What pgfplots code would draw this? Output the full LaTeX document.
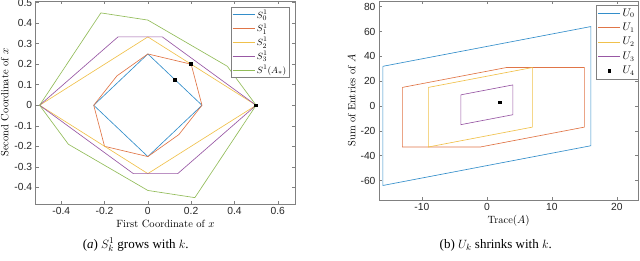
\documentclass[border=0pt]{standalone}
\usepackage{pgfplots}
\pgfplotsset{compat=1.18}
\usepackage{fontspec}
\setsansfont{Liberation Sans}
\newfontfamily\capfont{Liberation Serif}
\definecolor{mblue}{rgb}{0,0.447,0.741}
\definecolor{morange}{rgb}{0.85,0.325,0.098}
\definecolor{myellow}{rgb}{0.929,0.694,0.125}
\definecolor{mpurple}{rgb}{0.494,0.184,0.556}
\definecolor{mgreen}{rgb}{0.466,0.674,0.188}
\definecolor{axgray}{rgb}{0.5,0.5,0.5}
\begin{document}
\begin{tikzpicture}
\path[use as bounding box] (0pt,0pt) rectangle (640pt,260pt);
\pgfplotsset{
  myax/.style={
    scale only axis,
    anchor=south west,
    axis line style={axgray, line width=0.6pt},
    tick style={axgray, line width=0.5pt},
    tick align=inside,
    major tick length=3pt,
    ticklabel style={font=\sffamily\fontsize{10.3}{11}\selectfont, text=black!85},
    label style={font=\fontsize{10.5}{12}\selectfont},
    legend style={draw=axgray, line width=0.5pt, font=\fontsize{9.5}{10}\selectfont, inner sep=0.8pt, row sep=0pt, cells={anchor=west}},
    legend cell align=left,
    legend image code/.code={\draw[mark repeat=2,mark phase=2,#1] plot coordinates {(0pt,0pt) (11pt,0pt) (22pt,0pt)};},
    every axis plot/.append style={line width=0.65pt},
    clip=false,
  }
}
\begin{axis}[myax,
  at={(35.7pt,56pt)}, width=259.6pt, height=203pt,
  xmin=-0.518, xmax=0.681, ymin=-0.481, ymax=0.508,
  xtick={-0.4,-0.2,0,0.2,0.4,0.6}, xticklabels={-0.4,-0.2,0,0.2,0.4,0.6},
  ytick={-0.4,-0.3,-0.2,-0.1,0,0.1,0.2,0.3,0.4,0.5},
  yticklabels={-0.4,-0.3,-0.2,-0.1,0,0.1,0.2,0.3,0.4,0.5},
  xlabel={First Coordinate of $x$}, ylabel={Second Coordinate of $x$},
  xlabel style={yshift=2pt}, ylabel style={yshift=-1pt},
  legend style={at={(0.977,0.972)}, anchor=north east},
]
\addplot[mblue!80!white] coordinates {(0.25,0) (0,0.25) (-0.25,0) (0,-0.25) (0.25,0)};
\addlegendentry{$S_0^1$}
\addplot[morange!80!white] coordinates {(0.25,0) (0.2,0.2) (0,0.25) (-0.143,0.143) (-0.25,0) (-0.2,-0.2) (0,-0.25) (0.143,-0.143) (0.25,0)};
\addlegendentry{$S_1^1$}
\addplot[myellow!80!white] coordinates {(0.5,0) (0,0.333) (-0.5,0) (0,-0.333) (0.5,0)};
\addlegendentry{$S_2^1$}
\addplot[mpurple!80!white] coordinates {(0.5,0) (0.067,0.333) (-0.138,0.333) (-0.5,0) (-0.067,-0.333) (0.138,-0.333) (0.5,0)};
\addlegendentry{$S_3^1$}
\addplot[mgreen!80!white] coordinates {(0.5,0) (0.367,0.19) (0,0.415) (-0.217,0.45) (-0.5,0) (-0.367,-0.19) (0,-0.415) (0.217,-0.45) (0.5,0)};
\addlegendentry{$S^1(A_*)$}
\addplot[only marks, mark=square*, mark size=1.4pt, black, forget plot] coordinates {(0.125,0.125) (0.2,0.2) (0.5,0)};
\end{axis}
\begin{axis}[myax,
  at={(379pt,60pt)}, width=259.3pt, height=199pt,
  xmin=-16.6, xmax=23.3, ymin=-75.7, ymax=84.6,
  xtick={-10,0,10,20}, xticklabels={-10,0,10,20},
  ytick={-60,-40,-20,0,20,40,60,80}, yticklabels={-60,-40,-20,0,20,40,60,80},
  xlabel={Trace$(A)$}, ylabel={Sum of Entries of $A$},
  xlabel style={yshift=2pt}, ylabel style={yshift=-2pt},
  legend style={at={(1,0.981)}, anchor=north east, row sep=1.5pt, inner sep=1.5pt, font=\fontsize{10.5}{11}\selectfont},
]
\addplot[mblue!80!white] coordinates {(-16,32) (16,64) (16,-32) (-16,-64) (-16,32)};
\addlegendentry{$U_0$}
\addplot[morange!80!white] coordinates {(-13,15) (3,31) (15,31) (15,-17) (-1,-33) (-13,-33) (-13,15)};
\addlegendentry{$U_1$}
\addplot[myellow!80!white] coordinates {(-9,15) (7,31) (7,-17) (-9,-33) (-9,15)};
\addlegendentry{$U_2$}
\addplot[mpurple!80!white] coordinates {(-4,9) (4,17) (4,-7) (-4,-15) (-4,9)};
\addlegendentry{$U_3$}
\addplot[only marks, mark=square*, mark size=1.4pt, black] coordinates {(2,3)};
\addlegendentry{$U_4$}
\end{axis}
\node[font=\capfont\fontsize{13}{15}\selectfont] at (135.7pt,15pt) {(\textit{a}\/) $S_k^1$ grows with $k$.};
\node[font=\capfont\fontsize{13}{15}\selectfont] at (495.8pt,15pt) {(b) $U_k$ shrinks with $k$.};
\end{tikzpicture}
\end{document}
